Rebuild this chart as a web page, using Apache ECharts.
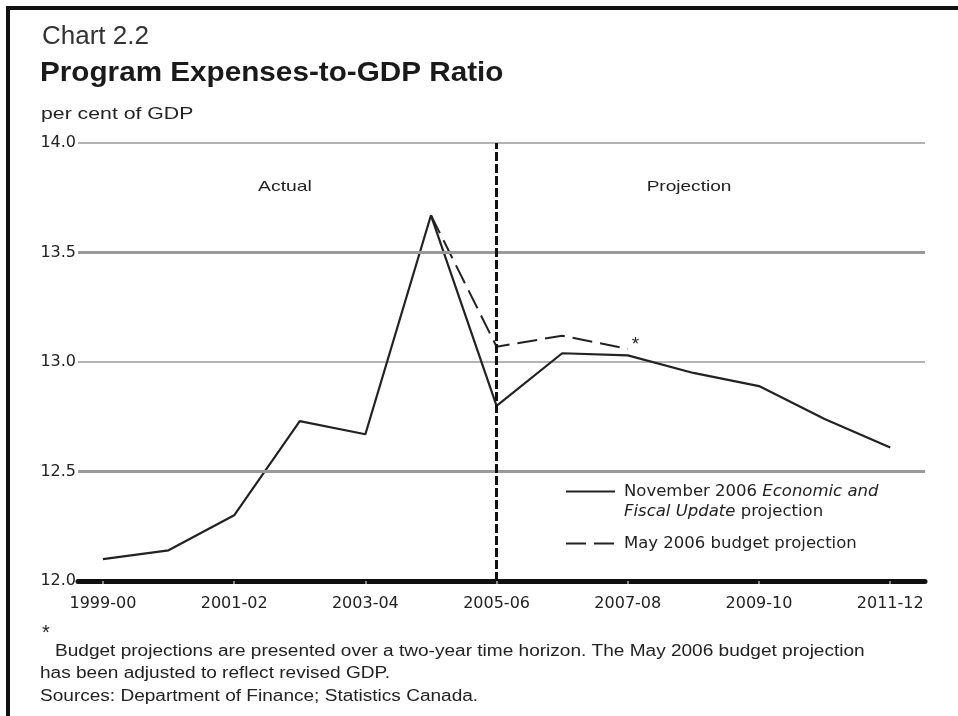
<!DOCTYPE html>
<html>
<head>
<meta charset="utf-8">
<script src="https://cdn.jsdelivr.net/npm/echarts@6/dist/echarts.min.js"></script>
<style>
html,body{margin:0;padding:0;background:#fff;}
#chart{width:958px;height:716px;}
</style>
</head>
<body>
<div id="chart"></div>
<script>
const categories = ['1999-00','2000-01','2001-02','2002-03','2003-04','2004-05','2005-06','2006-07','2007-08','2008-09','2009-10','2010-11','2011-12'];
const tickLabels = ['1999-00','2001-02','2003-04','2005-06','2007-08','2009-10','2011-12'];
const novemberUpdate = [12.10,12.14,12.30,12.73,12.67,13.67,12.80,13.04,13.03,12.95,12.89,12.74,12.61];
const mayBudget = [null,null,null,null,null,13.67,13.07,13.12,13.06,null,null,null,null];
const yTicks = [12.0,12.5,13.0,13.5,14.0];
const dividerCategory = '2005-06';

const FONT = '"Liberation Sans", Arial, Helvetica, sans-serif';
const WFONT = '"DejaVu Sans", "Liberation Sans", Arial, sans-serif';
const chart = echarts.init(document.getElementById('chart'), null, {renderer:'canvas'});

const tickIdx = tickLabels.map(t => categories.indexOf(t));
const solidData = novemberUpdate.map((v,i)=>[i,v]);
const dashData = mayBudget.map((v,i)=> v==null ? null : [i,v]).filter(d=>d);

function txt(text, x, y, size, scaleX, extra){
  return Object.assign({type:'text', x:x, y:y, scaleX:scaleX, silent:true,
    style:Object.assign({text:text, fontSize:size, fill:'#222', fontFamily:FONT, align:'left', verticalAlign:'middle'}, extra||{})});
}

chart.setOption({
  animation:false,
  backgroundColor:'#fff',
  textStyle:{fontFamily:FONT},
  grid:{left:78, right:33, top:143, bottom:135, containLabel:false},
  xAxis:{
    type:'value', min:-0.38, max:12.53,
    axisLine:{show:true, onZero:false, lineStyle:{color:'#111', width:5}},
    axisTick:{show:true, customValues:tickIdx, length:3, lineStyle:{color:'#888', width:2}},
    axisLabel:{customValues:tickIdx, formatter:v=>categories[Math.round(v)], fontSize:16, color:'#222', margin:15, fontFamily:WFONT},
    splitLine:{show:false}
  },
  yAxis:{
    type:'value', min:12, max:14, interval:0.5,
    axisLine:{show:false}, axisTick:{show:false},
    axisLabel:{formatter:v=>v.toFixed(1), fontSize:16, color:'#222', margin:2, fontFamily:WFONT},
    splitLine:{show:true, lineStyle:{color:'#9a9a9a', width:1.5}}
  },
  legend:{
    orient:'vertical', left:560, top:458, itemWidth:49, itemHeight:14, itemGap:15,
    itemStyle:{opacity:0},
    data:['November 2006 Economic and Fiscal Update projection','May 2006 budget projection'],
    formatter:function(name){
      if(name.indexOf('November')===0){
        return '{n| }\n{n|November 2006 }{i|Economic and}\n{i|Fiscal Update}{n| projection}';
      }
      return '{n|'+name+'}';
    },
    textStyle:{fontSize:16, color:'#222', fontFamily:WFONT, padding:[0,0,0,4],
      rich:{n:{fontSize:16.5, lineHeight:20, color:'#222', fontFamily:WFONT}, i:{fontSize:16.5, lineHeight:20, color:'#222', fontStyle:'italic', fontFamily:WFONT}}}
  },
  series:[
    {
      name:'November 2006 Economic and Fiscal Update projection',
      type:'line', data:solidData, symbol:'none', z:3,
      lineStyle:{color:'#222', width:2.2},
      itemStyle:{color:'#222'},
      markLine:{
        silent:true, symbol:'none', label:{show:false},
        data:[
          {yAxis:yTicks[1], lineStyle:{color:'#9a9a9a', width:3, type:'solid'}},
          {yAxis:yTicks[3], lineStyle:{color:'#9a9a9a', width:3, type:'solid'}},
          {xAxis:categories.indexOf(dividerCategory), lineStyle:{color:'#111', width:3, type:[9,3]}}
        ]
      }
    },
    {
      name:'May 2006 budget projection',
      type:'line', data:dashData, symbol:'none', z:2,
      lineStyle:{color:'#222', width:2, type:[20,8]},
      itemStyle:{color:'#222'},
      endLabel:{show:true, formatter:'*', offset:[-4,-4], fontSize:19, color:'#222', fontFamily:FONT}
    }
  ],
  graphic:[
    {type:'rect', x:8, y:8, shape:{width:1000, height:1000}, style:{fill:null, stroke:'#111', lineWidth:4}, silent:true},
    txt('Chart 2.2', 42, 37, 26, 1.0, {fill:'#333'}),
    txt('Program Expenses-to-GDP Ratio', 40, 73, 28, 1.06, {fontWeight:'bold', fill:'#1a1a1a'}),
    txt('per cent of GDP', 41, 114, 17, 1.25),
    txt('Actual', 285, 187, 15, 1.29, {align:'center'}),
    txt('Projection', 689, 187, 15, 1.27, {align:'center'}),
    txt('*', 42, 633, 20, 1.0),
    txt('Budget projections are presented over a two-year time horizon. The May 2006 budget projection', 55, 652, 16, 1.19),
    txt('has been adjusted to reflect revised GDP.', 40, 674, 16, 1.19),
    txt('Sources: Department of Finance; Statistics Canada.', 40, 697, 16, 1.19)
  ]
});
</script>
</body>
</html>
